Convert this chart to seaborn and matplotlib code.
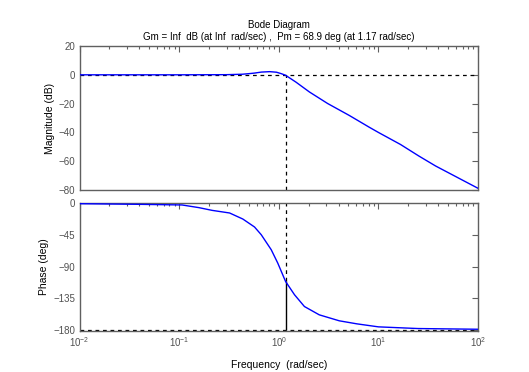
import seaborn as sns
import pandas as pd
import matplotlib.pyplot as plt
import numpy as np
from matplotlib.ticker import LogLocator, NullFormatter

# values
mag_freq = [0.01, 0.1, 0.3, 0.43, 0.5, 0.57, 0.67, 0.81, 0.95, 1.06, 1.17, 1.49, 2.03,
            3.09, 5.1, 8.1, 10, 16.7, 25.5, 37.5, 100]
mag_db = [0, 0, 0.1, 0.4, 0.8, 1.2, 1.9, 2.2, 1.8, 0.8, -0.3, -5.1, -11.9,
          -19.9, -28.2, -36.4, -40, -48.4, -56.4, -63.3, -78.8]

phase_freq = [0.01, 0.041, 0.107, 0.158, 0.215, 0.321, 0.436, 0.571, 0.667, 0.84, 0.977,
              1.17, 1.44, 1.81, 2.55, 4.05, 6.07, 10, 25, 100]
phase_deg = [-0.5, -1.4, -2.3, -6.1, -10, -13.7, -22.3, -33.6, -44.6, -65.9, -84.9,
             -111, -130, -146.7, -158.5, -167, -171.3, -175.6, -178, -179]

pm_freq = 1.17
pm = 68.9
pm_phase = -180 + pm

mag_df = pd.DataFrame({'w': mag_freq, 'db': mag_db})
ph_df = pd.DataFrame({'w': phase_freq, 'deg': phase_deg})

sns.set_theme(style='white')
plt.rcParams['font.family'] = ['Liberation Sans', 'DejaVu Sans']
plt.rcParams['font.size'] = 7
plt.rcParams['mathtext.default'] = 'regular'

spine_col = '#606060'
tick_col = '#505050'

fig = plt.figure(figsize=(5.29, 3.72), dpi=100)
ax1 = fig.add_axes([0.1503, 0.4892, 0.7533, 0.3871])
ax2 = fig.add_axes([0.1503, 0.1102, 0.7533, 0.3441])


def style_axis(ax):
    ax.set_xscale('log')
    ax.set_xlim(0.01, 100)
    ax.xaxis.set_major_locator(LogLocator(base=10, numticks=10))
    ax.xaxis.set_minor_locator(LogLocator(base=10, subs=np.arange(2, 10), numticks=10))
    ax.xaxis.set_minor_formatter(NullFormatter())
    for s in ax.spines.values():
        s.set_color(spine_col)
        s.set_linewidth(1.0)
    ax.tick_params(which='both', direction='in', top=True, right=True,
                   colors=spine_col, labelcolor=tick_col, labelsize=7, pad=3)
    ax.tick_params(which='major', length=4, width=0.8)
    ax.tick_params(which='minor', length=2.5, width=0.8)
    ax.set_facecolor('white')


# magnitude
style_axis(ax1)
ax1.axhline(0, color='black', ls=(0, (3, 3)), lw=0.9, zorder=1)
ax1.vlines(pm_freq, -80, 0, colors='black', linestyles=(0, (3, 3)), lw=0.9, zorder=1)
sns.lineplot(data=mag_df, x='w', y='db', ax=ax1, color='#0000ff', lw=1.0, zorder=3)
ax1.set_ylim(-80, 20)
ax1.set_yticks([20, 0, -20, -40, -60, -80])
ax1.set_xticklabels([])
ax1.set_xlabel('')
ax1.set_ylabel('Magnitude (dB)', fontsize=7.5, color='black', labelpad=3)
ax1.set_title('Bode Diagram\nGm = Inf  dB (at Inf  rad/sec) ,  Pm = 68.9 deg (at 1.17 rad/sec)',
              fontsize=7, color='black', pad=4, linespacing=1.25)

# phase
style_axis(ax2)
ax2.axhline(-180, color='black', ls=(0, (3, 3)), lw=0.9, zorder=1)
ax2.vlines(pm_freq, pm_phase, 0, colors='black', linestyles=(0, (3, 3)), lw=0.9, zorder=1)
ax2.vlines(pm_freq, -180, pm_phase, colors='black', lw=1.0, zorder=1)
sns.lineplot(data=ph_df, x='w', y='deg', ax=ax2, color='#0000ff', lw=1.0, zorder=3)
ax2.set_ylim(-181.5, 0.5)
ax2.set_yticks([0, -45, -90, -135, -180])
ax2.set_xlabel('Frequency  (rad/sec)', fontsize=7.5, color='black', labelpad=8)
ax2.set_ylabel('Phase (deg)', fontsize=7.5, color='black', labelpad=3)

fig.savefig('out.png', dpi=100, facecolor='white')
